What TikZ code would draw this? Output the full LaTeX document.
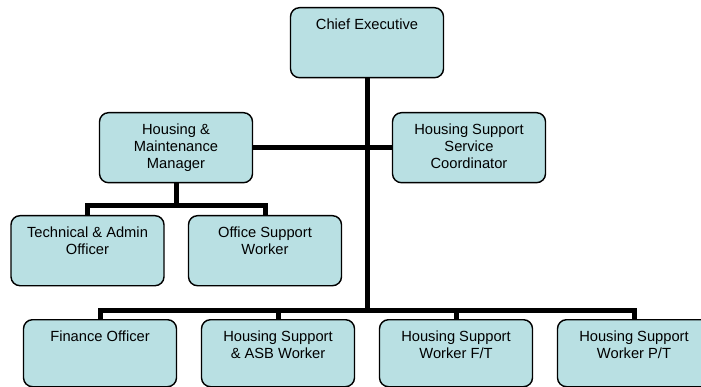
\documentclass[tikz,border=0pt]{standalone}
\usepackage{fontspec}
\setmainfont{Liberation Sans}
\usetikzlibrary{positioning}

\definecolor{boxfill}{RGB}{185,224,227}
\tikzset{
  orgbox/.style={draw=black, line width=1.4pt, rounded corners=9pt, fill=boxfill,
    inner sep=4pt, anchor=north, font=\fontsize{14.7}{17.3}\selectfont},
  link/.style={draw=black, line width=5pt},
}
\newcommand{\orgtext}[2][62pt]{\parbox[c][#1][t]{145pt}{\centering\rule{0pt}{17.5pt}#2}}

\begin{document}
\begin{tikzpicture}[x=1pt, y=-1pt]
  \useasboundingbox (0,0) rectangle (701,387);

  % top levels
  \node[orgbox] (ce) at (367,7) {\orgtext{Chief Executive}};
  \node[orgbox] (hmm) at (176,112) {\orgtext{Housing \&\\Maintenance\\Manager}};
  \node[orgbox] (hssc) at (469,112) {\orgtext{Housing Support\\Service\\Coordinator}};

  % under the manager
  \node[orgbox] (tao) at (87.5,215) {\orgtext{Technical \& Admin\\Officer}};
  \node[orgbox] (osw) at (265,215) {\orgtext{Office Support\\Worker}};

  % bottom row
  \node[orgbox] (fo) at (100,319) {\orgtext[59pt]{Finance Officer}};
  \node[orgbox] (asb) at (278,319) {\orgtext[59pt]{Housing Support\\\& ASB Worker}};
  \node[orgbox] (hsft) at (456,319) {\orgtext[59pt]{Housing Support\\Worker F/T}};
  \node[orgbox] (hspt) at (634,319) {\orgtext[59pt]{Housing Support\\Worker P/T}};

  % connectors
  \coordinate (lowbar) at (367,310);
  \coordinate (midbar) at (176,206);
  \draw[link] (ce.south) -- (lowbar);
  \draw[link] (hmm.east) -- (hssc.west);
  \draw[link] (hmm.south) -- (midbar);
  \draw[link] (tao.north) |- (midbar) -| (osw.north);
  \draw[link] (fo.north) |- (lowbar) -| (hspt.north);
  \draw[link] (asb.north) -- (asb.north |- lowbar);
  \draw[link] (hsft.north) -- (hsft.north |- lowbar);
\end{tikzpicture}
\end{document}
